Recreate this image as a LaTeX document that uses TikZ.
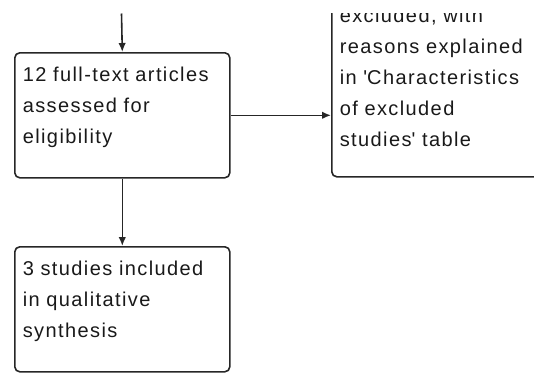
\documentclass[tikz,border=0pt]{standalone}
\usepackage{fontspec}
\setmainfont{Liberation Sans}[LetterSpace=7]
\usetikzlibrary{arrows.meta}
\colorlet{ink}{black!85}
\tikzset{%
  >={Latex[length=9pt,width=7.5pt]}, % default arrow style
  flowbox/.style={%
    draw=ink,line width=1.6pt,rounded corners=5pt,anchor=north west,
    align=left,text width=199pt,inner xsep=8pt,inner ysep=0pt,
    text height=29pt,text=black!90,font=\fontsize{20}{31}\selectfont%
  },%
  flowline/.style={->,draw=ink,line width=1.6pt}%
}

\begin{document}
\begin{tikzpicture}[x=1pt,y=-1pt]
  % page
  \useasboundingbox (0,0) rectangle (534,372);
  \clip (0,13.5) rectangle (534,372);
  % boxes
  \node[flowbox,text depth=96pt]    (full) at (14,52)
    {12 full-text articles\\assessed for\\eligibility};
  \node[flowbox,text depth=154.5pt] (excl) at (331,-7.5)
    {excluded, with\\reasons explained\\in \textquotesingle Characteristics\\of excluded\\studies\textquotesingle{} table};
  \node[flowbox,text depth=96pt]    (incl) at (14,246)
    {3 studies included\\in qualitative\\synthesis};
  % coordinates
  \coordinate (top) at (121.5,13.5);
  % arrows
  \draw[flowline] (top) -- (full.north);
  \draw[flowline] (full.east) -- (full.east -| excl.west);
  \draw[flowline] (full.south) -- (incl.north);
\end{tikzpicture}
\end{document}
